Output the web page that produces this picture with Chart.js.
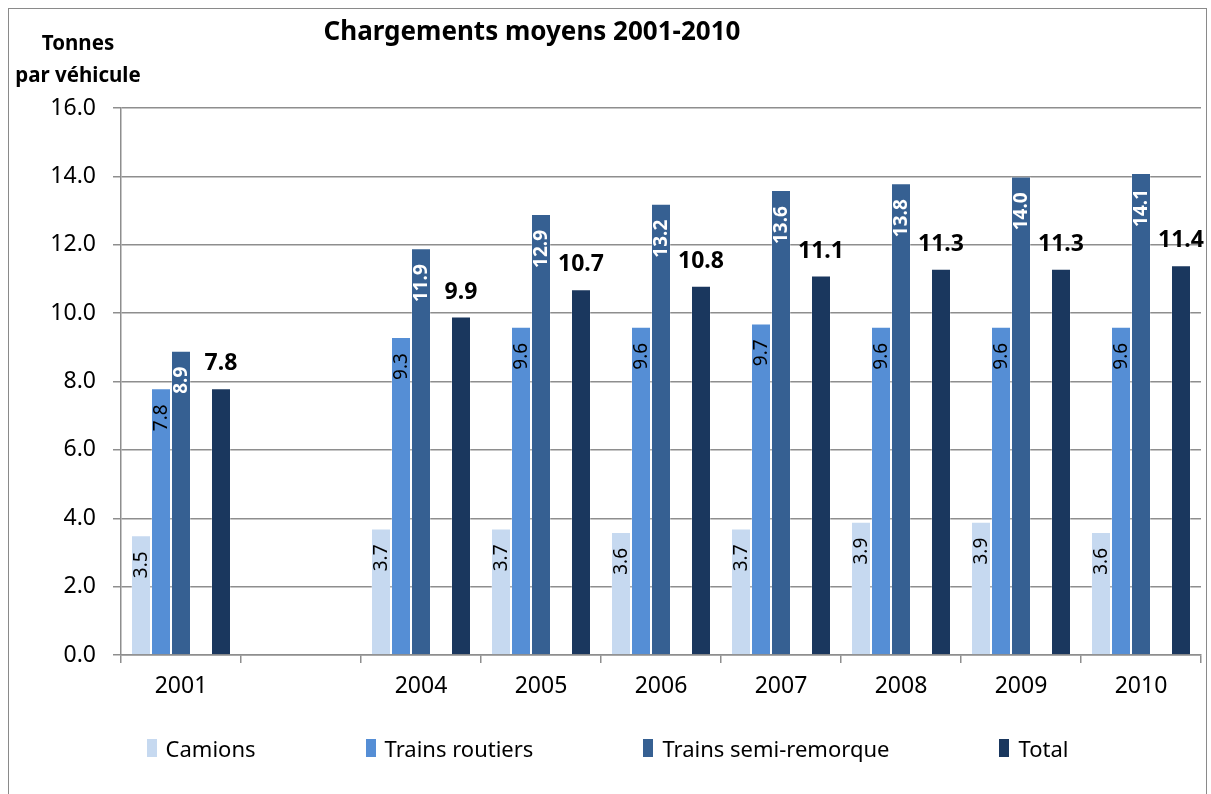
<!DOCTYPE html>
<html lang="fr">
<head>
<meta charset="utf-8">
<title>Chargements moyens 2001-2010</title>
<script src="https://cdn.jsdelivr.net/npm/chart.js@4.4.1/dist/chart.umd.min.js"></script>
<style>
  html, body { margin: 0; padding: 0; background: #fff; }
  body { width: 1211px; height: 794px; position: relative; overflow: hidden; font-family: 'Noto Sans', sans-serif; color: #000; }
  #frame { position: absolute; left: 8px; top: 8px; width: 1199px; height: 820px; border: 1px solid #8a8a8a; box-sizing: border-box; }
  #chart { position: absolute; left: 0; top: 0; }
  #title { position: absolute; left: 532px; top: 14px; transform: translateX(-50%); font-size: 26px; font-weight: bold; line-height: 32px; white-space: nowrap; }
  #ytitle { position: absolute; left: 78px; top: 26px; transform: translateX(-50%); font-size: 20.5px; font-weight: bold; line-height: 32px; text-align: center; white-space: nowrap; }
  #legend { position: absolute; left: 2px; width: 1211px; top: 733px; display: flex; justify-content: center; gap: 110px; font-size: 22px; line-height: 30px; }
  #legend .item { display: flex; align-items: center; white-space: nowrap; }
  #legend .box { display: inline-block; width: 10px; height: 18px; margin-right: 9px; }
</style>
</head>
<body>
<div id="frame"></div>
<canvas id="chart" width="1211" height="794"></canvas>
<div id="title">Chargements moyens 2001-2010</div>
<div id="ytitle">Tonnes<br>par véhicule</div>
<div id="legend"></div>
<script>
// données
const categories = ['2001', '', '2004', '2005', '2006', '2007', '2008', '2009', '2010'];
const camions = [3.5, null, 3.7, 3.7, 3.6, 3.7, 3.9, 3.9, 3.6];
const trainsRoutiers = [7.8, null, 9.3, 9.6, 9.6, 9.7, 9.6, 9.6, 9.6];
const trainsSemiRemorque = [8.9, null, 11.9, 12.9, 13.2, 13.6, 13.8, 14.0, 14.1];
const spacer = [null, null, null, null, null, null, null, null, null];
const total = [7.8, null, 9.9, 10.7, 10.8, 11.1, 11.3, 11.3, 11.4];
const yMin = 0, yMax = 16, yStep = 2;

const gridColor = '#8e8e8e';
const fontFamily = "'Noto Sans', sans-serif";

// étiquettes de valeurs (comme dans Excel)
const barLabels = {
  id: 'barLabels',
  afterDatasetsDraw(chart) {
    const ctx = chart.ctx;
    chart.data.datasets.forEach((ds, i) => {
      const meta = chart.getDatasetMeta(i);
      if (!ds.label) return;
      meta.data.forEach((bar, j) => {
        const v = ds.data[j];
        if (v == null) return;
        const txt = v.toFixed(1);
        ctx.save();
        if (ds.label === 'Total') {
          ctx.font = 'bold 23px ' + fontFamily;
          ctx.fillStyle = '#000';
          ctx.textAlign = 'center';
          ctx.textBaseline = 'alphabetic';
          ctx.fillText(txt, bar.x, bar.y - 18);
        } else {
          const semi = ds.label === 'Trains semi-remorque';
          ctx.font = (semi ? 'bold ' : '') + '19px ' + fontFamily;
          ctx.fillStyle = semi ? '#fff' : '#000';
          ctx.translate(bar.x + 1, bar.y + 16);
          ctx.rotate(-Math.PI / 2);
          ctx.textAlign = 'right';
          ctx.textBaseline = 'middle';
          ctx.fillText(txt, 0, 0);
        }
        ctx.restore();
      });
    });
  }
};

const chart = new Chart(document.getElementById('chart'), {
  type: 'bar',
  data: {
    labels: categories,
    datasets: [
      { label: 'Camions', data: camions, backgroundColor: '#c6d9f0' },
      { label: 'Trains routiers', data: trainsRoutiers, backgroundColor: '#558ed5' },
      { label: 'Trains semi-remorque', data: trainsSemiRemorque, backgroundColor: '#366092' },
      { label: '', data: spacer, backgroundColor: 'rgba(0,0,0,0)' },
      { label: 'Total', data: total, backgroundColor: '#1a375e' }
    ]
  },
  options: {
    responsive: false,
    animation: false,
    devicePixelRatio: 1,
    datasets: {
      bar: {
        categoryPercentage: 100 / 120,
        barPercentage: 1,
        borderWidth: 1,
        borderColor: 'rgba(255,255,255,0.25)'
      }
    },
    layout: { padding: { left: 0, right: 10, top: 108, bottom: 89 } },
    scales: {
      x: {
        offset: true,
        grid: { offset: true, drawOnChartArea: false, color: gridColor, lineWidth: 1.5, tickLength: 8 },
        border: { color: gridColor, width: 1.5 },
        ticks: { color: '#000', font: { family: fontFamily, size: 23 }, padding: 10, maxRotation: 0 },
        afterFit(scale) { scale.height = 50; }
      },
      y: {
        min: yMin,
        max: yMax,
        ticks: {
          stepSize: yStep,
          color: '#000',
          font: { family: fontFamily, size: 23 },
          padding: 17,
          callback: v => Number(v).toFixed(1)
        },
        grid: { color: gridColor, lineWidth: 1.5, tickLength: 8 },
        border: { color: gridColor, width: 1.5 },
        afterFit(scale) { scale.width = 121; }
      }
    },
    plugins: {
      legend: { display: false },
      tooltip: { enabled: false }
    }
  },
  plugins: [barLabels]
});

// légende HTML construite à partir des séries
const legendEl = document.getElementById('legend');
chart.data.datasets.forEach(ds => {
  if (!ds.label) return;
  const item = document.createElement('span');
  item.className = 'item';
  const box = document.createElement('span');
  box.className = 'box';
  box.style.background = ds.backgroundColor;
  item.appendChild(box);
  item.appendChild(document.createTextNode(ds.label));
  legendEl.appendChild(item);
});
</script>
</body>
</html>
